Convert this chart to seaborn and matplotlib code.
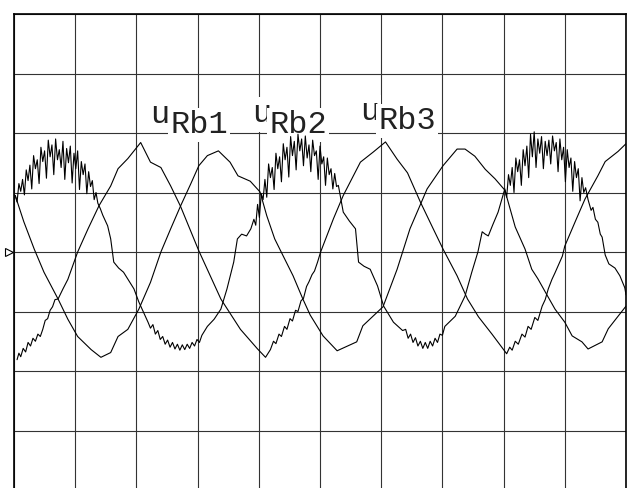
import matplotlib
matplotlib.use("Agg")
import matplotlib.pyplot as plt
import seaborn as sns

# oscilloscope screen: 10 x 8 divisions, values in divisions
w1_x = [0.02, 0.05, 0.08, 0.11, 0.14, 0.17, 0.20, 0.23, 0.26, 0.29, 0.32, 0.35, 0.38, 0.41, 0.44, 0.47,
        0.50, 0.53, 0.56, 0.59, 0.62, 0.65, 0.68, 0.71, 0.74, 0.77, 0.80, 0.83, 0.86, 0.89, 0.92, 0.95,
        0.98, 1.01, 1.04, 1.07, 1.10, 1.13, 1.16, 1.19, 1.22, 1.25, 1.28, 1.31, 1.34, 1.37, 1.41,
        1.45, 1.53, 1.58, 1.63, 1.71, 1.79, 1.96, 2.04, 2.12, 2.19,
        2.23, 2.27, 2.31, 2.35, 2.39, 2.43, 2.47, 2.51, 2.55, 2.59, 2.63, 2.67, 2.71, 2.75, 2.79, 2.83,
        2.87, 2.91, 2.95, 2.99, 3.03, 3.07,
        3.16, 3.27, 3.38, 3.48, 3.59, 3.65, 3.72, 3.80, 3.87,
        3.92, 3.95, 3.98, 4.01, 4.04, 4.07, 4.10, 4.13, 4.16, 4.19, 4.22, 4.25, 4.28, 4.31, 4.34, 4.37,
        4.40, 4.43, 4.46, 4.49, 4.52, 4.55, 4.58, 4.61, 4.64, 4.67, 4.70, 4.73, 4.76, 4.79, 4.82, 4.85,
        4.88, 4.91, 4.94, 4.97, 5.00, 5.03, 5.06, 5.09, 5.12, 5.15, 5.18, 5.21, 5.24, 5.27, 5.30, 5.34,
        5.38, 5.48, 5.58, 5.63, 5.72, 5.82, 5.94, 6.04, 6.20, 6.35,
        6.40, 6.44, 6.48, 6.52, 6.56, 6.60, 6.64, 6.68, 6.72, 6.76, 6.80, 6.84, 6.88, 6.92, 6.96, 7.00,
        7.04, 7.21, 7.37, 7.48, 7.58, 7.65, 7.70, 7.75, 7.82, 7.91,
        8.02, 8.05, 8.08, 8.11, 8.14, 8.17, 8.20, 8.23, 8.26, 8.29, 8.32, 8.35, 8.38, 8.41, 8.44, 8.47,
        8.50, 8.53, 8.56, 8.59, 8.62, 8.65, 8.68, 8.71, 8.74, 8.77, 8.80, 8.83, 8.86, 8.89, 8.92, 8.95,
        8.98, 9.01, 9.04, 9.07, 9.10, 9.13, 9.16, 9.19, 9.22, 9.25, 9.28, 9.31, 9.34, 9.38,
        9.43, 9.46, 9.50, 9.54, 9.58, 9.61, 9.66, 9.72, 9.82, 9.90, 9.98, 10.0]
w1_y = [0.95, 0.84, 1.15, 1.02, 1.22, 0.96, 1.38, 1.20, 1.46, 1.06, 1.62, 1.40, 1.55, 1.15, 1.76, 1.52,
        1.70, 1.24, 1.88, 1.60, 1.80, 1.30, 1.90, 1.55, 1.72, 1.42, 1.86, 1.22, 1.74, 1.50, 1.78, 1.16,
        1.66, 1.40, 1.70, 1.05, 1.52, 1.30, 1.48, 0.98, 1.35, 1.10, 1.20, 0.88, 1.00, 0.82, 0.73,
        0.62, 0.44, 0.22, -0.17, -0.27, -0.34, -0.62, -0.84, -1.02, -1.18,
        -1.28, -1.22, -1.38, -1.32, -1.47, -1.42, -1.55, -1.48, -1.60, -1.52, -1.63, -1.55, -1.65, -1.56,
        -1.64, -1.55, -1.62, -1.52, -1.58, -1.47, -1.52, -1.40,
        -1.25, -1.13, -0.96, -0.62, -0.17, 0.22, 0.30, 0.27, 0.39,
        0.55, 0.45, 0.80, 0.58, 0.98, 0.88, 1.22, 0.92, 1.48, 1.25, 1.42, 1.05, 1.66, 1.40, 1.60, 1.18,
        1.82, 1.55, 1.76, 1.26, 1.94, 1.62, 1.86, 1.38, 1.98, 1.70, 1.90, 1.45, 1.95, 1.58, 1.80, 1.35,
        1.88, 1.62, 1.70, 1.22, 1.78, 1.48, 1.60, 1.12, 1.58, 1.30, 1.40, 1.06, 1.32, 1.10, 1.12, 0.90,
        0.67, 0.52, 0.39, -0.17, -0.24, -0.29, -0.57, -0.91, -1.18, -1.32,
        -1.30, -1.45, -1.38, -1.52, -1.44, -1.58, -1.50, -1.62, -1.52, -1.62, -1.50, -1.58, -1.45, -1.52,
        -1.38, -1.40, -1.25, -1.08, -0.74, -0.34, 0.0, 0.34, 0.30, 0.27, 0.45, 0.67,
        1.06, 0.92, 1.30, 1.12, 1.42, 1.00, 1.58, 1.35, 1.55, 1.12, 1.72, 1.45, 1.78, 1.25, 1.98, 1.60,
        2.02, 1.42, 1.90, 1.66, 1.94, 1.40, 1.86, 1.62, 1.88, 1.48, 1.95, 1.70, 1.84, 1.35, 1.90, 1.55,
        1.76, 1.18, 1.72, 1.42, 1.58, 1.02, 1.52, 1.25, 1.40, 0.86, 1.25, 1.00, 1.08, 0.88,
        0.70, 0.75, 0.55, 0.50, 0.30, 0.25, -0.05, -0.20, -0.27, -0.40, -0.60, -0.72]

w2_x = [0.05, 0.08, 0.11, 0.15, 0.19, 0.23, 0.27, 0.31, 0.35, 0.39, 0.43, 0.47, 0.51, 0.55, 0.59, 0.63,
        0.67, 0.72, 0.80, 0.88, 1.04, 1.21, 1.39, 1.58, 1.70, 1.86, 2.07, 2.23, 2.40, 2.56, 2.72, 3.02,
        3.38, 3.70, 3.98, 4.11, 4.19, 4.24, 4.28, 4.33, 4.37, 4.42, 4.46, 4.51, 4.55, 4.60, 4.64, 4.69,
        4.73, 4.78, 4.82, 4.87, 4.91, 4.96, 5.01, 5.22, 5.38, 5.66, 5.87, 6.07, 6.26, 6.43, 6.64, 6.85,
        7.01, 7.24, 7.41, 7.59, 7.81, 8.05, 8.10, 8.14, 8.19, 8.24, 8.30, 8.35, 8.40, 8.45, 8.51, 8.56,
        8.63, 8.68, 8.73, 8.79, 8.84, 8.96, 9.00, 9.17, 9.33, 9.54, 9.66, 9.87, 10.0]
w2_y = [-1.81, -1.70, -1.76, -1.62, -1.68, -1.52, -1.58, -1.45, -1.50, -1.38, -1.42, -1.30, -1.15, -1.12,
        -0.98, -0.92, -0.80, -0.79, -0.62, -0.46, 0.0, 0.39, 0.78, 1.11, 1.40, 1.57, 1.84, 1.51, 1.42,
        1.11, 0.77, 0.02, -0.79, -1.30, -1.63, -1.77, -1.64, -1.50, -1.54, -1.38, -1.42, -1.25, -1.30,
        -1.12, -1.16, -0.98, -1.00, -0.82, -0.78, -0.58, -0.50, -0.38, -0.32, -0.17, 0.0, 0.56, 0.95,
        1.51, 1.68, 1.85, 1.56, 1.33, 0.84, 0.39, 0.05, -0.40, -0.79, -1.09, -1.38, -1.71, -1.60, -1.65,
        -1.50, -1.55, -1.38, -1.43, -1.25, -1.30, -1.10, -1.15, -0.91, -0.80, -0.62, -0.46, -0.35, -0.07,
        0.10, 0.51, 0.89, 1.28, 1.52, 1.69, 1.82]

w3_x = [0.02, 0.16, 0.33, 0.49, 0.72, 0.88, 1.04, 1.26, 1.42, 1.58, 1.70, 1.86, 2.04, 2.23, 2.40, 2.56,
        2.72, 2.89, 3.02, 3.16, 3.34, 3.53, 3.66, 3.86, 4.02, 4.13, 4.26, 4.40, 4.56, 4.72, 4.84, 5.05,
        5.28, 5.60, 5.70, 6.03, 6.26, 6.47, 6.75, 7.01, 7.24, 7.37, 7.53, 7.70, 7.86, 8.02, 8.19, 8.35,
        8.46, 8.56, 8.68, 8.84, 9.00, 9.12, 9.28, 9.38, 9.61, 9.71, 9.87, 10.0]
w3_y = [0.95, 0.51, 0.05, -0.34, -0.79, -1.13, -1.42, -1.64, -1.77, -1.69, -1.42, -1.30, -0.96, -0.51,
        0.0, 0.39, 0.77, 1.15, 1.45, 1.62, 1.70, 1.51, 1.28, 1.19, 1.01, 0.61, 0.22, -0.07, -0.40, -0.79,
        -1.06, -1.41, -1.66, -1.51, -1.24, -0.92, -0.29, 0.39, 1.06, 1.45, 1.73, 1.73, 1.61, 1.39, 1.23,
        1.04, 0.42, 0.05, -0.29, -0.45, -0.67, -0.96, -1.18, -1.41, -1.51, -1.63, -1.51, -1.29, -1.08, -0.91]

labels = ["Rb1", "Rb2", "Rb3"]

sns.set_style("white")
fig = plt.figure(figsize=(6.35, 4.88), dpi=100)
ax = fig.add_axes([14 / 635, -2 / 488, 612 / 635, 476 / 488])

for xs, ys in [(w1_x, w1_y), (w2_x, w2_y), (w3_x, w3_y)]:
    sns.lineplot(x=xs, y=ys, sort=False, estimator=None, color="black", lw=0.8, ax=ax, zorder=3)

ax.set_xlim(0, 10)
ax.set_ylim(-4, 4)
ax.set_xticks(range(11))
ax.set_yticks(range(-4, 5))
ax.grid(True, color="#333333", lw=0.8)
ax.set_axisbelow(True)
ax.tick_params(length=0, labelbottom=False, labelleft=False)
for s in ax.spines.values():
    s.set_color("black")
    s.set_linewidth(1.2)

# channel marker at the zero line
ax.plot([-0.08], [0], marker=">", ms=6, mfc="white", mec="black", mew=0.8, clip_on=False)

# trace labels
font = dict(family="Liberation Mono", size=23, color="#222222")
box = dict(facecolor="white", edgecolor="none", pad=1.5)
u_pos = [(2.22, 2.17), (3.89, 2.18), (5.65, 2.22)]
r_pos = [(2.55, 2.00), (4.17, 2.00), (5.95, 2.07)]
for lab, (ux, uy), (rx, ry) in zip(labels, u_pos, r_pos):
    ax.text(ux, uy, "u", ha="left", va="baseline", bbox=box, zorder=2.5, **font)
    ax.text(rx, ry, lab, ha="left", va="baseline", bbox=box, zorder=2.5, **font)

fig.savefig("out.png", dpi=100)
